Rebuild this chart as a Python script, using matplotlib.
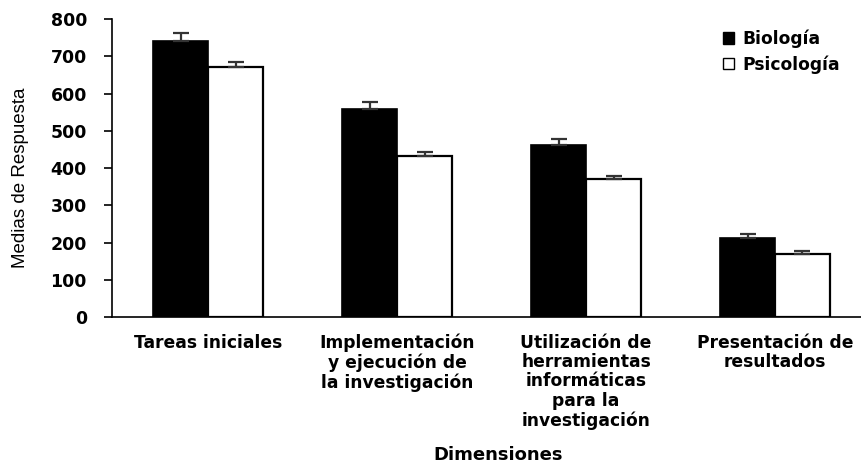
import matplotlib
matplotlib.use("Agg")
import matplotlib.pyplot as plt
import numpy as np
from matplotlib import font_manager

categories = [
    "Tareas iniciales",
    "Implementación\ny ejecución de\nla investigación",
    "Utilización de\nherramientas\ninformáticas\npara la\ninvestigación",
    "Presentación de\nresultados",
]
biologia = [742, 559, 462, 212]
biologia_err = [20, 17, 17, 10]
psicologia = [672, 432, 370, 170]
psicologia_err = [13, 11, 9, 6]
yticks = [0, 100, 200, 300, 400, 500, 600, 700, 800]

names = {f.name for f in font_manager.fontManager.ttflist}
narrow = "Liberation Sans Narrow" if "Liberation Sans Narrow" in names else "Liberation Sans"
bold_family = ["DejaVu Sans"]
plt.rcParams["font.family"] = ["DejaVu Sans"]

fig = plt.figure(figsize=(8.61, 4.66), dpi=100)
ax = fig.add_axes([0.130, 0.3197, 0.870, 0.6395])

x = np.arange(len(categories))
w = 0.29
err_kw = dict(ecolor="#333333", elinewidth=1.6, capsize=6, capthick=1.6)
ax.bar(x - w / 2, biologia, w, color="black", edgecolor="black", linewidth=1.2,
       yerr=[np.zeros(4), biologia_err], error_kw=err_kw, label="Biología")
ax.bar(x + w / 2, psicologia, w, color="white", edgecolor="black", linewidth=1.6,
       yerr=[np.zeros(4), psicologia_err], error_kw=err_kw, label="Psicología")

ax.set_xlim(-0.51, 3.455)
ax.set_ylim(0, 800)
ax.set_yticks(yticks)
ax.set_yticklabels([str(v) for v in yticks], fontsize=12.5, fontweight="bold",
                   family=bold_family)
ax.set_xticks(x)
ax.set_xticklabels(categories, fontsize=12.3, fontweight="bold", linespacing=1.1,
                   family=bold_family)
ax.tick_params(axis="x", length=0, pad=12)
ax.tick_params(axis="y", length=6, width=1.2, direction="out", pad=12)

for s in ["top", "right"]:
    ax.spines[s].set_visible(False)
for s in ["left", "bottom"]:
    ax.spines[s].set_linewidth(1.2)

fig.text(0.024, 0.618, "Medias de Respuesta", rotation=90, ha="center", va="center",
         fontsize=13.5, family=[narrow, "DejaVu Sans"])
fig.text(0.578, 0.012, "Dimensiones", ha="center", va="baseline",
         fontsize=13, fontweight="bold", family=bold_family)

leg = ax.legend(loc="upper left", bbox_to_anchor=(0.80, 1.005), frameon=False,
                prop=dict(size=12.3, weight="bold", family=bold_family),
                handlelength=0.65, handleheight=0.65, handletextpad=0.5,
                labelspacing=0.42, borderaxespad=0.3)
for h in leg.legend_handles:
    h.set_linewidth(1.0)

fig.savefig("out.png", dpi=100)
